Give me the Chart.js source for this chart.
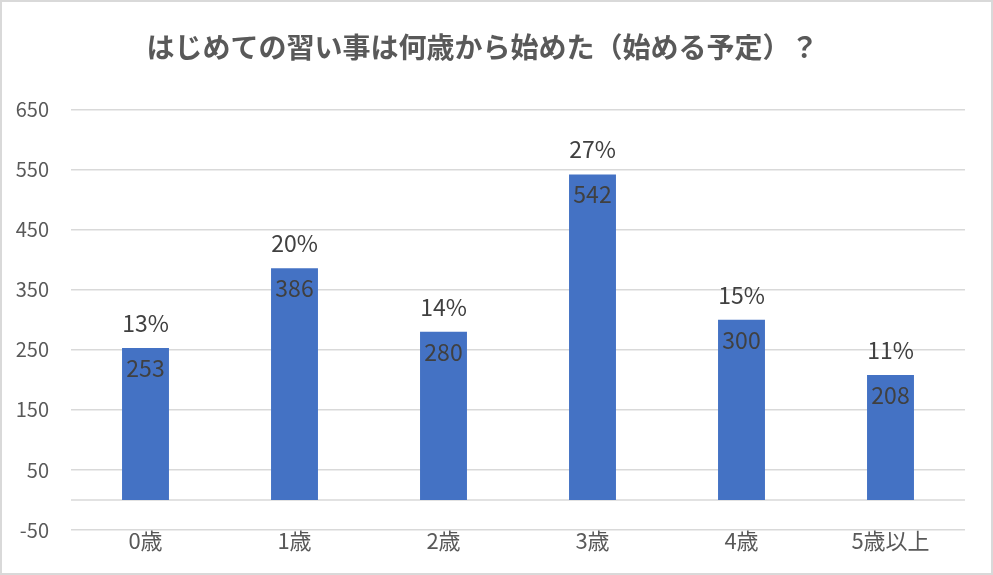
<!DOCTYPE html>
<html>
<head>
<meta charset="utf-8">
<script src="https://cdn.jsdelivr.net/npm/chart.js@4"></script>
<style>
  body { margin: 0; background: #fff; }
</style>
</head>
<body>
<canvas id="chart" width="993" height="575"></canvas>
<script>
var labels = ["0歳", "1歳", "2歳", "3歳", "4歳", "5歳以上"];
var counts = [253, 386, 280, 542, 300, 208];
var percents = ["13%", "20%", "14%", "27%", "15%", "11%"];
var yMin = -50, yMax = 650, yStep = 100;

var FONT = "'Noto Sans CJK JP', 'Noto Sans', sans-serif";

// 外枠・ゼロ線・データラベル
var extras = {
  id: "extras",
  beforeDraw: function(chart) {
    var ctx = chart.ctx;
    ctx.save();
    ctx.strokeStyle = "#d9d9d9";
    ctx.lineWidth = 2;
    ctx.strokeRect(1, 1, chart.width - 2, chart.height - 2);
    ctx.restore();
  },
  beforeDatasetsDraw: function(chart) {
    var ctx = chart.ctx, y = chart.scales.y.getPixelForValue(0);
    ctx.save();
    ctx.strokeStyle = "#d9d9d9";
    ctx.lineWidth = 1.5;
    ctx.beginPath();
    ctx.moveTo(chart.chartArea.left, y);
    ctx.lineTo(chart.chartArea.right, y);
    ctx.stroke();
    ctx.restore();
  },
  afterDatasetsDraw: function(chart) {
    var ctx = chart.ctx;
    var meta = chart.getDatasetMeta(0);
    ctx.save();
    ctx.font = "23px " + FONT;
    ctx.fillStyle = "#404040";
    ctx.textAlign = "center";
    ctx.textBaseline = "middle";
    meta.data.forEach(function(bar, i) {
      ctx.fillText(percents[i], bar.x, bar.y - 25);
      ctx.fillText(String(counts[i]), bar.x, bar.y + 20);
    });
    ctx.restore();
  }
};

var ctx = document.getElementById("chart").getContext("2d");
var chart = new Chart(ctx, {
  type: "bar",
  data: {
    labels: labels,
    datasets: [
      { label: "人数", data: counts, backgroundColor: "#4472c4", barPercentage: 0.315, categoryPercentage: 1 }
    ]
  },
  options: {
    responsive: false,
    animation: false,
    devicePixelRatio: 1,
    layout: { padding: { left: 0, right: 28, top: 0, bottom: 23 } },
    plugins: {
      legend: { display: false },
      tooltip: { enabled: false },
      title: {
        display: true,
        text: "はじめての習い事は何歳から始めた（始める予定）？",
        color: "#595959",
        font: { family: FONT, size: 28, weight: "bold", lineHeight: 1.2 },
        padding: { top: 31, bottom: 45 }
      }
    },
    scales: {
      x: {
        grid: { display: false, drawTicks: false },
        border: { display: false },
        ticks: { color: "#595959", font: { family: FONT, size: 22, lineHeight: 1 }, padding: 0 }
      },
      y: {
        min: yMin,
        max: yMax,
        grid: { color: "#d9d9d9", lineWidth: 1.5, drawTicks: false },
        border: { display: false },
        ticks: { stepSize: yStep, color: "#595959", font: { family: FONT, size: 20 }, padding: 22 },
        afterFit: function(scale) { scale.width = 71; }
      }
    }
  },
  plugins: [extras]
});
</script>
</body>
</html>
